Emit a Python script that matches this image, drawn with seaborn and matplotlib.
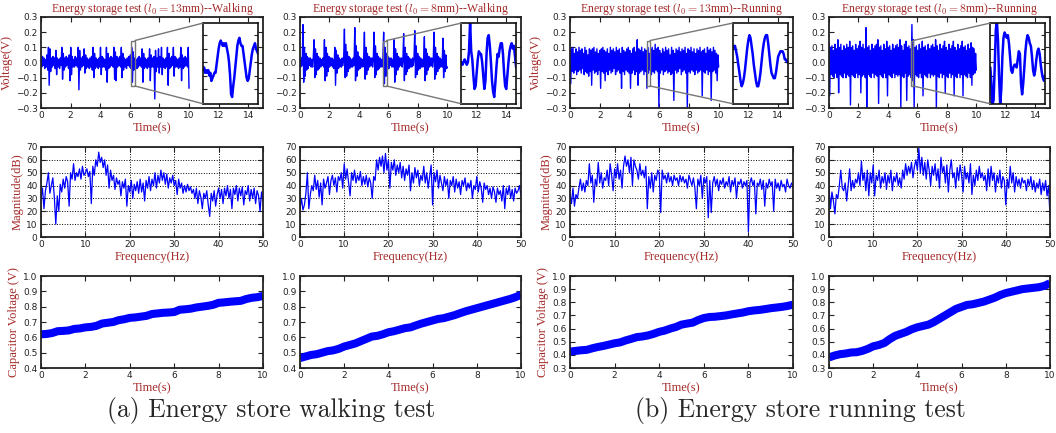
import numpy as np
import matplotlib
matplotlib.use("Agg")
import matplotlib.pyplot as plt
import seaborn as sns
from matplotlib.patches import Rectangle, ConnectionPatch

# ---------------- data ----------------
# Top row: generator voltage, hundredths of a volt, 0..10 s
volt_walk13 = [3,-3,4,-2,3,-4,2,-3,5,-5, 10,-15,9,-6,3,-3,4,-2,3,-4,
               8,-8,3,-3,2,-4,3,-2,10,-11, 6,-5,3,-3,4,-2,3,-4,5,-12,
               10,-8,4,-3,2,-3,4,-2,3,-3, 10,-18,8,-5,3,-3,4,-2,9,-7,
               5,-4,3,-3,2,-4,3,-3,4,-5, 10,-10,6,-4,3,-3,2,-4,3,-3,
               10,-8,4,-3,3,-3,2,-5,10,-13, 6,-4,3,-3,4,-2,3,-3,10,-11,
               7,-12,4,-3,3,-2,4,-3,10,-10, 6,-5,3,-3,2,-4,3,-2,4,-3,
               5,-4,10,-13,7,-5,3,-3,2,-4, 3,-3,4,-2,3,-3,9,-13,6,-4,
               3,-3,2,-4,3,-3,9,-12,5,-3, 3,-3,4,-24,8,-6,3,-3,9,-7,
               4,-3,10,-8,3,-3,2,-4,3,-3, 10,-15,6,-4,3,-3,4,-2,10,-9,
               4,-3,3,-3,2,-4,3,-3,10,-12, 5,-4,3,-3,4,-2,3,-3,10,-17]
volt_walk8 = [2,-3,3,-2,25,-13,10,-9,6,-5, 4,-4,3,-2,3,-3,2,-3,4,15,
              -10,9,-8,6,-5,4,-4,3,-3,2, -2,3,-3,15,-12,10,-9,6,-6,4,
              -3,3,-2,3,-3,2,-4,10,-15,8, -7,5,-4,3,-3,2,-3,3,-2,3,
              22,-10,12,-9,7,-6,4,-4,3,-3, 2,-3,3,-2,23,-12,11,-9,7,-5,
              4,-4,3,-3,2,-3,3,20,-11,10, -8,6,-5,4,-3,3,-2,3,-3,2,
              20,-10,11,-8,6,-5,4,-4,3,-3, 2,-3,3,20,-14,10,-9,6,-5,4,
              -4,3,-2,3,-3,2,-3,15,-13,9, -8,6,-5,4,-3,3,-2,3,-3,2,
              19,-12,10,-8,6,-6,4,-4,3,-3, 2,-3,3,-2,3,21,-10,11,-8,6,
              -5,4,-4,3,-3,2,-3,3,17,-12, 9,-8,6,-5,4,-3,3,-2,3,-3,
              2,20,-11,10,-8,6,-6,4,-4,3, -3,2,-3,16,-10,8,-6,5,-4,-3]
volt_run13 = [8,-14,9,-6,10,-7,6,-5,9,-8, 7,-6,10,-5,8,-7,9,-4,6,-8,
              10,-6,8,-7,5,-9,9,-6,8,-15, 9,-5,10,-7,7,-6,9,-8,6,-5,
              8,-17,9,-6,10,-7,8,-12,7,-6, 9,-8,6,-5,10,-7,8,-6,9,-4,
              7,-8,10,-6,8,-5,9,-7,6,-17, 10,-6,8,-8,7,-5,9,-6,10,-7,
              8,-17,6,-7,9,-5,10,-8,7,-6, 15,-15,9,-7,8,-6,10,-5,7,-8,
              9,-6,8,-17,10,-7,6,-5,9,-8, 10,-6,8,-7,12,-5,9,-6,10,-30,
              8,-7,6,-5,9,-8,7,-6,10,-5, 8,-7,9,-6,5,-8,10,-7,8,-25,
              6,-5,9,-7,8,-6,10,-4,7,-8, 9,-6,8,-5,10,-7,6,-30,9,-6,
              8,-7,10,-5,7,-6,9,-8,6,-5, 9,-7,8,-6,10,-5,7,-22,8,-6,
              9,-7,6,-5,10,-8,8,-6,9,-25, 7,-6,10,-5,8,-7,6,-12,5,-3]
volt_run8 = [13,-22,10,-8,11,-9,8,-10,12,-7, 9,-10,15,-20,10,-8,12,-9,8,-10,
             11,-7,9,-10,12,-8,10,-9,14,-28, 10,-8,11,-9,8,-10,12,-7,9,-10,
             11,-8,14,-20,10,-9,12,-8,9,-10, 23,-30,10,-8,11,-9,8,-10,12,-7,
             9,-10,11,-8,12,-9,15,-27,10,-8, 11,-9,8,-10,12,-7,9,-10,14,-22,
             10,-8,11,-9,8,-10,12,-7,9,-10, 11,-8,12,-9,10,-8,15,-30,11,-9,
             8,-10,12,-7,14,-25,10,-9,11,-8, 9,-10,25,-12,15,-30,10,-8,11,-9,
             8,-10,12,-7,9,-10,14,-22,10,-8, 11,-9,8,-10,12,-7,9,-10,11,-8,
             12,-9,10,-8,15,-30,11,-9,8,-10, 12,-7,9,-10,11,-8,14,-20,10,-9,
             8,-10,12,-7,9,-10,11,-8,14,-22, 10,-9,8,-10,12,-7,9,-10,11,-8,
             14,-22,10,-8,11,-9,8,-10,12,-7, 9,-10,13,-15,10,-8,9,-7,6,-5]

# Zoomed windows (s) and the zoomed signal, hundredths of a volt
zoom_windows = [(6.08, 6.35), (5.66, 5.88), (5.17, 5.39), (5.54, 5.72)]
zoom_ylim = (-0.155, 0.145)
zoom_walk13 = [-3,-2,-4,-3,-4,-3,-5,-4,-7,-6,-5,-4,-4,-1,2,5,7,8,7,6,7,6,7,5,3,0,
               -5,-12,-13,-9,-6,-2,2,6,8,9,7,6,6,3,0,-3,-6,-7,-6,-3,0,3,5,6,7,5,4,3]
zoom_walk8 = [0,-1,0,1,0,-1,0,4,15,4,1,-5,-10,-9,-4,1,4,3,3,0,-5,-10,-7,3,9,10,
              6,0,-7,-11,-13,-8,-2,3,2,5,7,7,3,-4,-9,-10,-5,0,4,6,7,5,6,2,-2]
zoom_run13 = [5,6,6,4,2,-1,-4,-7,-9,-8,-6,-3,1,5,8,10,9,6,3,-1,-4,-7,-9,-9,-7,-4,
              0,4,7,9,10,10,7,3,-1,-4,-5,-6,-6,-4,-1,2,3,4,4,4,3,1,1,0,0]
zoom_run8 = [-2,-8,-16,-14,-2,12,15,8,-6,-16,-10,2,9,11,10,9,10,7,2,-3,-4,-2,-1,-1,
             -2,1,4,3,-8,-12,-8,-2,4,8,10,9,7,6,2,-3,-5,-3,1,4,5,3,-1,-4,-6,-7,-5]

# Middle row: magnitude spectra (dB), 0..50 Hz
mag_walk13 = [30,38,22,36,42,50,34,40,46,31,10,32,20,41,35,45,38,47,43,24,50,45,57,44,50,
              47,53,45,55,48,50,53,47,51,26,55,48,60,55,66,58,62,54,60,48,56,38,52,44,48,
              37,46,41,44,32,43,38,45,24,40,35,44,30,41,36,43,34,45,35,42,28,44,38,47,36,
              45,40,50,38,48,42,52,44,50,41,49,38,46,42,48,40,44,33,45,38,42,34,40,35,41,
              36,39,34,37,30,38,26,36,31,22,34,30,36,25,16,34,28,36,24,33,38,30,37,26,38,
              32,40,30,37,22,38,33,40,28,38,32,39,25,36,33,40,28,37,30,38,26,36,32,20,35,28]
mag_walk8 = [22,30,21,25,34,50,22,33,40,36,48,37,44,31,42,25,45,38,42,47,33,44,48,40,46,
             35,47,44,50,38,57,45,53,42,32,50,44,52,42,48,44,51,40,47,41,48,39,46,42,30,
             47,44,60,52,62,55,63,50,65,52,60,38,58,52,60,48,56,50,58,46,55,44,53,48,56,
             36,50,42,54,46,52,40,48,44,55,42,50,38,47,56,25,50,43,52,38,48,42,36,47,40,
             45,30,44,40,47,35,45,38,43,33,44,40,46,36,42,38,44,30,40,37,47,35,43,38,27,
             42,37,40,33,38,30,39,35,27,38,33,36,28,40,22,38,33,40,30,37,28,38,34,36,40,32]
mag_run13 = [34,26,38,24,33,30,38,45,36,42,35,44,40,57,42,48,27,45,40,58,42,50,38,46,44,
             52,40,57,48,36,53,46,57,45,52,38,55,63,55,60,50,62,40,60,55,52,45,57,48,52,
             46,55,22,47,38,50,35,48,44,52,50,19,52,45,48,42,50,43,47,40,48,44,46,40,48,
             43,47,42,45,38,48,44,40,46,38,22,45,40,48,30,46,42,47,15,44,19,42,47,40,45,
             36,44,41,46,38,43,40,47,35,44,40,46,30,43,41,45,38,43,40,44,4,42,46,40,44,
             18,42,40,45,37,44,24,42,38,45,40,43,20,45,38,42,36,44,39,41,35,45,40,38,42,40]
mag_run8 = [38,22,35,28,18,33,30,40,52,38,36,42,28,40,53,36,44,38,45,42,50,40,59,44,50,
            36,52,32,50,42,56,32,48,44,52,38,47,42,50,37,48,42,52,36,47,43,50,40,46,38,
            52,45,57,48,55,50,58,46,55,60,52,69,50,62,48,58,45,60,52,40,55,48,57,44,53,
            38,62,50,55,42,56,35,52,60,46,50,38,54,44,56,48,35,55,45,50,42,57,33,48,40,
            52,44,55,46,50,44,48,36,53,40,55,44,50,35,48,42,52,38,47,44,25,45,38,55,42,
            50,35,47,40,45,38,46,42,44,36,45,40,47,37,44,35,42,38,45,33,42,36,44,32,40,16]

# Bottom row: capacitor voltage (V), 0..10 s
cap_walk13 = [0.620,0.622,0.628,0.640,0.642,0.645,0.655,0.658,0.665,0.668,0.675,0.690,
              0.695,0.700,0.712,0.718,0.727,0.730,0.735,0.740,0.752,0.756,0.760,0.762,
              0.765,0.780,0.783,0.787,0.795,0.800,0.805,0.812,0.825,0.828,0.832,0.835,
              0.838,0.850,0.858,0.862,0.870]
cap_walk8 = [0.465,0.475,0.485,0.490,0.500,0.510,0.515,0.525,0.540,0.550,0.560,0.575,
             0.590,0.605,0.610,0.620,0.633,0.640,0.650,0.660,0.665,0.678,0.690,0.700,
             0.710,0.720,0.725,0.735,0.745,0.758,0.770,0.780,0.790,0.800,0.810,0.820,
             0.830,0.840,0.850,0.862,0.878]
cap_run13 = [0.425,0.430,0.435,0.438,0.450,0.460,0.468,0.478,0.488,0.495,0.510,0.522,
             0.535,0.540,0.548,0.560,0.575,0.585,0.600,0.612,0.630,0.638,0.645,0.665,
             0.680,0.688,0.690,0.695,0.700,0.708,0.715,0.722,0.732,0.738,0.742,0.748,
             0.755,0.760,0.765,0.772,0.782]
cap_run8 = [0.380,0.395,0.405,0.410,0.418,0.420,0.430,0.445,0.465,0.475,0.490,0.520,
            0.545,0.560,0.575,0.595,0.610,0.620,0.630,0.650,0.675,0.700,0.725,0.750,
            0.765,0.780,0.785,0.795,0.805,0.820,0.835,0.855,0.870,0.880,0.890,0.900,
            0.905,0.910,0.915,0.925,0.945]

titles = [r"Energy storage test ($l_0=13$mm)--Walking",
          r"Energy storage test ($l_0=8$mm)--Walking",
          r"Energy storage test ($l_0=13$mm)--Running",
          r"Energy storage test ($l_0=8$mm)--Running"]
captions = ["(a) Energy store walking test", "(b) Energy store running test"]
cap_ylims = [(0.4, 1.0), (0.4, 1.0), (0.3, 1.0), (0.3, 1.0)]

volts = [volt_walk13, volt_walk8, volt_run13, volt_run8]
zooms = [zoom_walk13, zoom_walk8, zoom_run13, zoom_run8]
mags = [mag_walk13, mag_walk8, mag_run13, mag_run8]
caps = [cap_walk13, cap_walk8, cap_run13, cap_run8]

# ---------------- style ----------------
sns.set_style("ticks")
plt.rcParams.update({
    "font.family": ["DejaVu Sans"],
    "mathtext.fontset": "cm",
    "xtick.direction": "in", "ytick.direction": "in",
    "xtick.top": True, "ytick.right": True,
    "xtick.major.size": 3.5, "ytick.major.size": 3.5,
    "xtick.major.width": 0.8, "ytick.major.width": 0.8,
    "xtick.labelsize": 6.5, "ytick.labelsize": 6.5,
    "xtick.major.pad": 2.5, "ytick.major.pad": 2.5,
    "axes.edgecolor": "#222222", "axes.linewidth": 1.3,
    "xtick.color": "#222222", "ytick.color": "#222222",
})
RED = "#a52a2a"
SERIF = ["Liberation Serif", "DejaVu Serif"]
LINE = "#0000ff"

W, H = 1056, 433
fig = plt.figure(figsize=(W / 100, H / 100), dpi=100)


def box(l, t, r, b):
    return [l / W, 1 - b / H, (r - l) / W, (b - t) / H]


cols = [(41, 263), (300, 521), (570, 793), (829, 1050)]
rows = [(17, 108), (147, 237), (276, 368)]


def lab(ax, xl, yl=None):
    ax.set_xlabel(xl, family=SERIF, color=RED, fontsize=9, labelpad=1)
    if yl:
        ax.set_ylabel(yl, family=SERIF, color=RED, fontsize=9, labelpad=2)
    else:
        ax.set_ylabel("")


for c in range(4):
    l, r = cols[c]
    # ---- top row: voltage with zoom inset
    ax = fig.add_axes(box(l, rows[0][0], r, rows[0][1]))
    v = np.array(volts[c]) / 100.0
    t = np.linspace(0, 10, len(v))
    sns.lineplot(x=t, y=v, ax=ax, color=LINE, lw=1.0, estimator=None)
    ax.set_xlim(0, 15)
    ax.set_ylim(-0.3, 0.3)
    ax.set_xticks(np.arange(0, 15, 2))
    yt = np.round(np.arange(-0.3, 0.31, 0.1), 1)
    ax.set_yticks(yt)
    ax.set_yticklabels([f"{y:.1f}".replace("-", "\u2212") for y in yt])
    ax.set_title(titles[c], family=SERIF, color=RED, fontsize=8.5, pad=2)
    lab(ax, "Time(s)", "Voltage(V)" if c in (0, 2) else None)

    x0, x1 = zoom_windows[c]
    axins = ax.inset_axes([10.95, -0.272, 3.72, 0.532], transform=ax.transData)
    zv = np.array(zooms[c]) / 100.0
    zt = np.linspace(x0, x1, len(zv))
    sns.lineplot(x=zt, y=zv, ax=axins, color=LINE, lw=1.8, estimator=None)
    axins.set_xlim(x0, x1)
    axins.set_ylim(*zoom_ylim)
    axins.set_xticks([])
    axins.set_yticks([-0.1, -0.05, 0, 0.05, 0.1])
    axins.tick_params(labelleft=False, labelright=False, length=3)
    axins.set_xlabel("")
    axins.set_ylabel("")
    for s in axins.spines.values():
        s.set_linewidth(1.2)
        s.set_color("#111111")
    ax.add_patch(Rectangle((x0, zoom_ylim[0]), x1 - x0, zoom_ylim[1] - zoom_ylim[0],
                           fill=False, ec="#777777", lw=1.0, zorder=5))
    for yy, yb in ((zoom_ylim[1], 1), (zoom_ylim[0], 0)):
        con = ConnectionPatch(xyA=(x1, yy), coordsA=ax.transData,
                              xyB=(0, yb), coordsB=axins.transAxes,
                              color="#777777", lw=1.0)
        fig.add_artist(con)

    # ---- middle row: spectrum
    ax2 = fig.add_axes(box(l, rows[1][0], r, rows[1][1]))
    m = np.array(mags[c], dtype=float)
    f = np.linspace(0, 50, len(m))
    sns.lineplot(x=f, y=m, ax=ax2, color=LINE, lw=0.9, estimator=None)
    ax2.set_xlim(0, 50)
    ax2.set_ylim(0, 70)
    ax2.set_xticks(np.arange(0, 51, 10))
    ax2.set_yticks(np.arange(0, 71, 10))
    ax2.grid(True, color="black", ls=":", lw=0.7)
    lab(ax2, "Frequency(Hz)", "Magnitude(dB)" if c in (0, 2) else None)

    # ---- bottom row: capacitor voltage
    ax3 = fig.add_axes(box(l, rows[2][0], r, rows[2][1]))
    cv = np.array(caps[c])
    ct = np.linspace(0, 10, len(cv))
    sns.lineplot(x=ct, y=cv, ax=ax3, color=LINE, lw=5.8, estimator=None,
                 solid_capstyle="butt")
    ax3.set_xlim(0, 10)
    ax3.set_ylim(*cap_ylims[c])
    ax3.set_xticks(np.arange(0, 11, 2))
    ax3.set_yticks(np.round(np.arange(cap_ylims[c][0], 1.01, 0.1), 1))
    lab(ax3, "Time(s)", "Capacitor Voltage (V)" if c in (0, 2) else None)

fig.text(271 / W, 1 - 411 / H, captions[0], family=["cmr10", "DejaVu Serif"],
         fontsize=18.5, ha="center", va="center")
fig.text(800 / W, 1 - 411 / H, captions[1], family=["cmr10", "DejaVu Serif"],
         fontsize=18.5, ha="center", va="center")

fig.savefig("out.png", dpi=100)
